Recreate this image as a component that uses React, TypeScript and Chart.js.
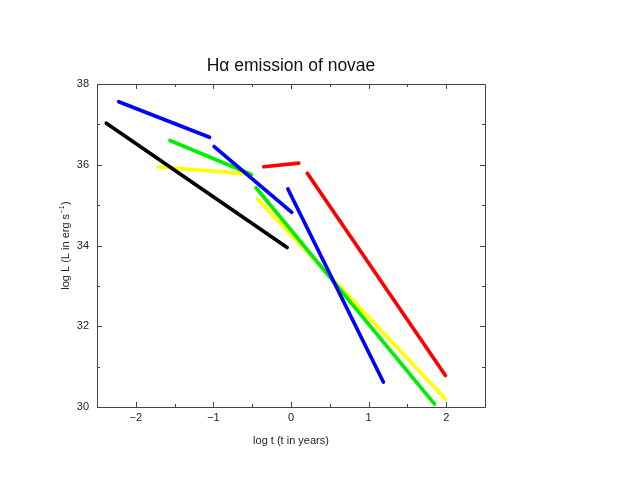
import React, { useEffect, useRef } from "react";
import { Chart, registerables } from "chart.js";

Chart.register(...registerables);

// Segment endpoints: [log t, log L]
const blackSeg = [[-2.38, 37.03], [-0.05, 33.95]];
const blueSeg1 = [[-2.22, 37.56], [-1.05, 36.68]];
const blueSeg2 = [[-0.99, 36.45], [0.01, 34.82]];
const blueSeg3 = [[-0.04, 35.40], [1.19, 30.62]];
const greenSeg1 = [[-1.56, 36.60], [-0.51, 35.76]];
const greenSeg2 = [[-0.45, 35.43], [1.85, 30.07]];
const yellowSeg1 = [[-1.71, 35.95], [-0.53, 35.77]];
const yellowSeg2 = [[-0.43, 35.15], [1.99, 30.20]];
const redSeg1 = [[-0.35, 35.95], [0.10, 36.04]];
const redSeg2 = [[0.21, 35.79], [1.99, 30.78]];

const xTicks = [-2, -1, 0, 1, 2];
const xMinorTicks = [-1.5, -0.5, 0.5, 1.5];
const yTicks = [30, 32, 34, 36, 38];
const yMinorTicks = [31, 33, 35, 37];

const titleText = "H\u03b1 emission of novae";
const xTitle = "log t (t in years)";
const yTitleMain = "log L (L in erg s";
const yTitleSup = "\u22121";
const yTitleEnd = ")";

const FONT = "'Liberation Sans', Arial, Helvetica, sans-serif";

const toPts = (seg: number[][]) => seg.map(([x, y]) => ({ x, y }));

const framePlugin = {
  id: "framePlugin",
  afterDraw(chart: any) {
    const { ctx, chartArea } = chart;
    const xs = chart.scales.x;
    const ys = chart.scales.y;
    const { left, right, top, bottom } = chartArea;
    ctx.save();
    ctx.strokeStyle = "#444";
    ctx.lineWidth = 1;
    ctx.beginPath();
    ctx.rect(Math.round(left) + 0.5, Math.round(top) + 0.5, Math.round(right - left), Math.round(bottom - top));
    ctx.stroke();
    const tick = (vals: number[], len: number) => {
      ctx.beginPath();
      vals.forEach((v) => {
        const px = Math.round(xs.getPixelForValue(v)) + 0.5;
        ctx.moveTo(px, bottom);
        ctx.lineTo(px, bottom - len);
        ctx.moveTo(px, top);
        ctx.lineTo(px, top + len);
      });
      ctx.stroke();
    };
    const tickY = (vals: number[], len: number) => {
      ctx.beginPath();
      vals.forEach((v) => {
        const py = Math.round(ys.getPixelForValue(v)) + 0.5;
        ctx.moveTo(left, py);
        ctx.lineTo(left + len, py);
        ctx.moveTo(right, py);
        ctx.lineTo(right - len, py);
      });
      ctx.stroke();
    };
    tick(xTicks, 5);
    tick(xMinorTicks, 3);
    tickY(yTicks, 5);
    tickY(yMinorTicks, 3);

    const cx = (left + right) / 2;
    const cy = (top + bottom) / 2;
    ctx.fillStyle = "#111";
    ctx.textAlign = "center";
    ctx.textBaseline = "alphabetic";
    ctx.font = `17.5px ${FONT}`;
    ctx.fillText(titleText, cx, 71);

    ctx.fillStyle = "#222";
    ctx.font = `11px ${FONT}`;
    ctx.fillText(xTitle, cx, 444);

    // y title with superscript
    ctx.save();
    ctx.translate(69, cy);
    ctx.rotate(-Math.PI / 2);
    ctx.textAlign = "left";
    ctx.font = `11px ${FONT}`;
    const w1 = ctx.measureText(yTitleMain).width;
    const w3 = ctx.measureText(yTitleEnd).width;
    ctx.font = `7px ${FONT}`;
    const w2 = ctx.measureText(yTitleSup).width + 1;
    const total = w1 + w2 + w3;
    let x0 = -total / 2;
    ctx.font = `11px ${FONT}`;
    ctx.fillText(yTitleMain, x0, 0);
    ctx.font = `7px ${FONT}`;
    ctx.fillText(yTitleSup, x0 + w1 + 0.5, -5);
    ctx.font = `11px ${FONT}`;
    ctx.fillText(yTitleEnd, x0 + w1 + w2, 0);
    ctx.restore();
    ctx.restore();
  },
};

const fmt = (v: number) => (v < 0 ? "\u2212" + Math.abs(v) : String(v));

export default function App() {
  const ref = useRef<HTMLCanvasElement>(null);
  useEffect(() => {
    if (!ref.current) return;
    const mk = (data: number[][], color: string, order: number) => ({
      data: toPts(data),
      borderColor: color,
      backgroundColor: color,
      borderWidth: 3.7,
      borderCapStyle: "round" as const,
      showLine: true,
      pointRadius: 0,
      pointHoverRadius: 0,
      order,
    });
    const chart = new Chart(ref.current, {
      type: "scatter",
      data: {
        datasets: [
          mk(blueSeg1, "#0000ff", 0),
          mk(blueSeg2, "#0000ff", 0),
          mk(blueSeg3, "#0000ff", 0),
          mk(blackSeg, "#000000", 1),
          mk(redSeg1, "#ff0000", 2),
          mk(redSeg2, "#ff0000", 2),
          mk(greenSeg1, "#00ee00", 3),
          mk(greenSeg2, "#00ee00", 3),
          mk(yellowSeg1, "#ffff00", 4),
          mk(yellowSeg2, "#ffff00", 4),
        ],
      },
      options: {
        animation: false,
        responsive: false,
        devicePixelRatio: 1,
        layout: { padding: { left: 0, right: 150, top: 84, bottom: 54 } },
        plugins: { legend: { display: false }, tooltip: { enabled: false }, title: { display: false } },
        events: [],
        scales: {
          x: {
            type: "linear",
            min: -2.5,
            max: 2.5,
            grid: { display: false, drawTicks: false },
            border: { display: false },
            afterBuildTicks: (s: any) => {
              s.ticks = xTicks.map((v) => ({ value: v }));
            },
            afterFit: (s: any) => {
              s.height = 30;
            },
            ticks: {
              padding: 4,
              maxRotation: 0,
              autoSkip: false,
              color: "#222",
              font: { family: FONT, size: 11 },
              callback: (v: any) => fmt(Number(v)),
            },
          },
          y: {
            type: "linear",
            min: 30,
            max: 38,
            grid: { display: false, drawTicks: false },
            border: { display: false },
            afterBuildTicks: (s: any) => {
              s.ticks = yTicks.map((v) => ({ value: v }));
            },
            afterFit: (s: any) => {
              s.width = 97;
            },
            ticks: {
              padding: 8,
              autoSkip: false,
              color: "#222",
              font: { family: FONT, size: 11 },
              callback: (v: any) => fmt(Number(v)),
            },
          },
        },
      },
      plugins: [framePlugin],
    });
    return () => chart.destroy();
  }, []);
  return (
    <div style={{ position: "fixed", left: 0, top: 0, width: 635, height: 491, background: "#fff" }}>
      <canvas ref={ref} width={635} height={491} style={{ width: 635, height: 491, display: "block" }} />
    </div>
  );
}
